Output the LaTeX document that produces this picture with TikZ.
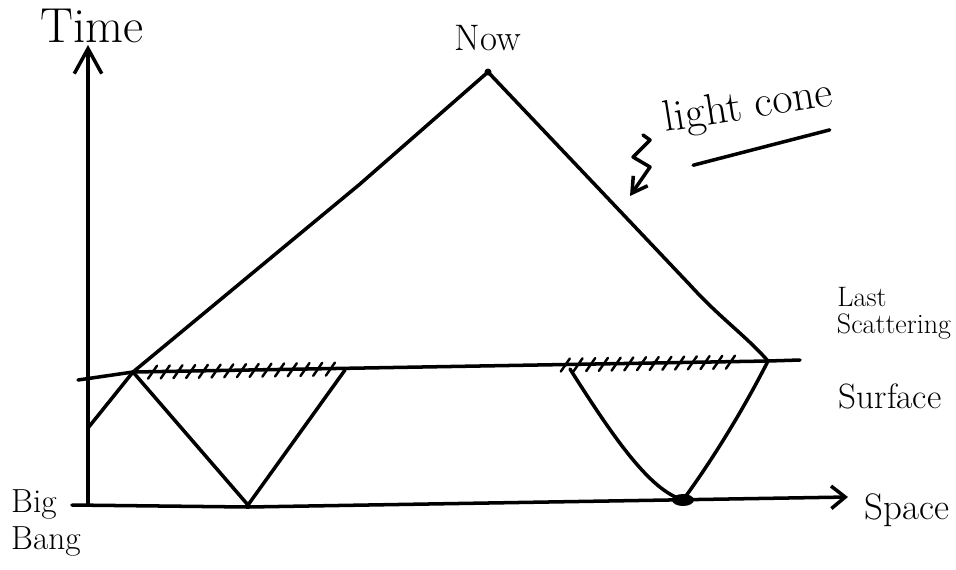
\documentclass[tikz,border=0pt]{standalone}
\usepackage{tikz}
\usetikzlibrary{arrows.meta,calc}

\begin{document}
\begin{tikzpicture}[x=0.02cm, y=-0.02cm,
  pen/.style={line width=2pt, line cap=round, line join=round},
  axis/.style={pen, -{Straight Barb[length=5mm, width=5.5mm, line width=2pt]}},
  hatch/.style={line width=1.4pt, line cap=round},
  lbl/.style={font=\fontsize{19}{21}\selectfont, inner sep=1pt}
]
\useasboundingbox (0,0) rectangle (956,569);

% axes
\coordinate (O) at (88,505);
\coordinate (sstart) at (72,505);
\coordinate (ttip) at (88,45);
\coordinate (stip) at (848,497);
\draw[axis] (O) -- (ttip);
\draw[pen, -{Straight Barb[length=2.8mm, width=4.5mm, line width=2pt]}] (sstart) -- (248,507) -- (stip);

\node[lbl, font=\fontsize{28}{30}\selectfont] (time) at (92,26) {Time};
\node[lbl, font=\fontsize{21}{23}\selectfont] (space) at (907,510) {Space};
\node[lbl, align=left] (bigbang) at (46,523) {Big\\Bang};

% light cone
\coordinate (nowpt) at (488,72);
\coordinate (lcL) at (133,372);
\coordinate (lcR) at (768,361);
\coordinate (tcross) at (88,428);
\node[lbl, font=\fontsize{21}{23}\selectfont] (now) at (488,38) {Now};
\fill (nowpt) circle (3.5);
\draw[pen] (tcross) -- (lcL) -- (360,184) -- (nowpt) -- (600,190)
  -- (690,285) .. controls (720,318) and (745,335) .. (lcR);

% last scattering surface
\coordinate (lssL) at (78,380);
\coordinate (lssR) at (800,360);
\draw[pen] (lssL) -- (lcL) -- (lcR) -- (lssR);
\foreach \t in {0.03,0.05,...,0.32}
  \draw[hatch] ($(lcL)!\t!(lcR)$) ++(-4,7) -- ++(9,-13);
\foreach \t in {0.68,0.70,...,0.95}
  \draw[hatch] ($(lcL)!\t!(lcR)$) ++(-4,7) -- ++(9,-13);
\node[lbl, font=\fontsize{16}{18}\selectfont] (last) at (862,297) {Last};
\node[lbl, font=\fontsize{16}{18}\selectfont] (scat) at (894,327) {Scattering};
\node[lbl, font=\fontsize{20}{22}\selectfont] (surf) at (890,396) {Surface};

% past cones
\coordinate (vL) at (248,505);
\coordinate (vLtop) at (345,370);
\coordinate (vRtop) at (570,369);
\coordinate (blob) at (683,500);
\draw[pen] (lcL) -- (vL) -- (vLtop);
\draw[pen] (vRtop) .. controls (615,440) and (650,490) .. (blob)
  .. controls (705,470) and (738,420) .. (lcR);
\fill (blob) ellipse (11 and 6);

% label
\node[lbl, font=\fontsize{25}{27}\selectfont, rotate=9] (lightcone) at (748,108) {light cone};
\draw[pen] ($(lightcone.south west)+(28,22)$) -- ($(lightcone.south east)+(-8,14)$);
\coordinate (ptr) at (630,196);
\draw[pen, -{Straight Barb[length=3mm, width=3.5mm, line width=2pt]}]
  (643,135) -- (650,140) -- (633,157) -- (650,167) -- (ptr);
\end{tikzpicture}
\end{document}
